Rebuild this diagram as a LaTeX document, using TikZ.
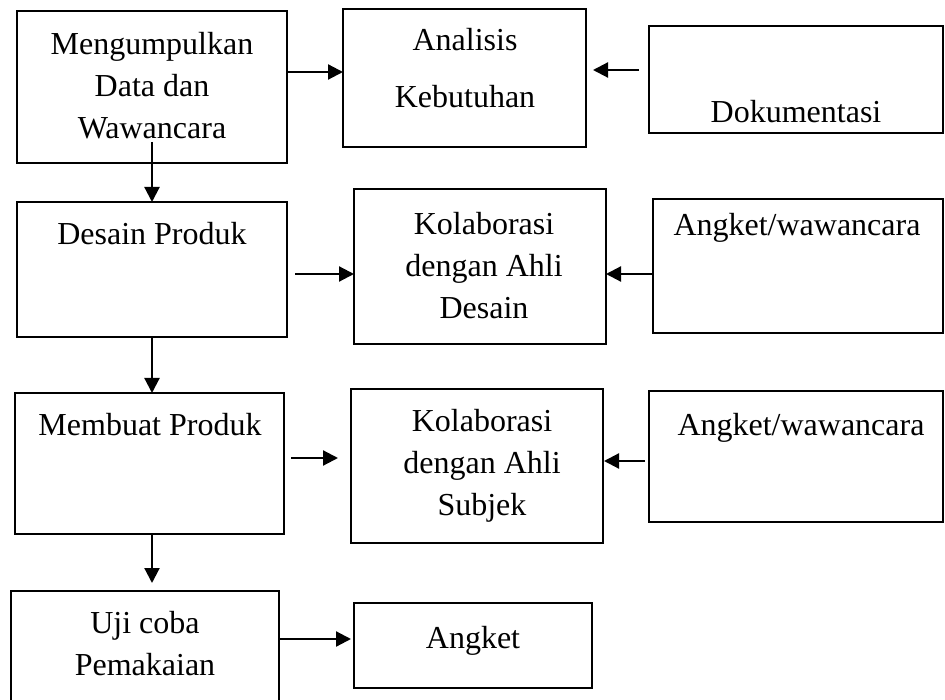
\documentclass[tikz,border=0pt]{standalone}
\usepackage{fontspec}
\setmainfont{Liberation Serif}
\usepackage{tikz}
\usetikzlibrary{arrows.meta}

\begin{document}
\begin{tikzpicture}[x=1pt, y=-1pt,
    kotak/.style 2 args={draw, line width=1.6pt, inner sep=0pt, outer sep=0pt, minimum width=#1, minimum height=#2},
    teks/.style={font=\fontsize{32}{42}\selectfont, align=center, anchor=north, inner sep=0pt},
    panah/.style={line width=2.2pt, -{Triangle[length=15pt, width=15pt]}}]
    \useasboundingbox (0,0) rectangle (945,700);

    % Left column
    \node[kotak={270pt}{152pt}] (kumpul) at (152,87) {};
    \node[kotak={270pt}{135pt}] (desain) at (152,269.5) {};
    \node[kotak={269pt}{141pt}] (buat) at (149.5,463.5) {};
    \node[kotak={268pt}{111pt}] (uji) at (145,646.5) {};

    % Middle column
    \node[kotak={243pt}{138pt}] (analisis) at (464.5,78) {};
    \node[kotak={252pt}{155pt}] (kolabdesain) at (480,266.5) {};
    \node[kotak={252pt}{154pt}] (kolabsubjek) at (477,466) {};
    \node[kotak={238pt}{85pt}] (angket) at (473,645.5) {};

    % Right column
    \node[kotak={294pt}{107pt}] (dokumen) at (796,79.5) {};
    \node[kotak={290pt}{134pt}] (angketdesain) at (798,266) {};
    \node[kotak={294pt}{131pt}] (angketsubjek) at (796,456.5) {};

    % Texts
    \node[teks] (tkumpul) at (152,32) {Mengumpulkan\\Data dan\\Wawancara};
    \node[teks] (tdesain) at (152,222) {Desain Produk};
    \node[teks] (tbuat) at (150,413) {Membuat Produk};
    \node[teks] (tuji) at (145,611) {Uji coba\\Pemakaian};
    \node[teks] (tanalisis) at (465,28) {Analisis\\[15pt]Kebutuhan};
    \node[teks] (tkolabdesain) at (484,212) {Kolaborasi\\dengan Ahli\\Desain};
    \node[teks] (tkolabsubjek) at (482,409) {Kolaborasi\\dengan Ahli\\Subjek};
    \node[teks] (tangket) at (473,626) {Angket};
    \node[teks] (tdokumen) at (796,100) {Dokumentasi};
    \node[teks] (tangketdesain) at (797,213) {Angket/wawancara};
    \node[teks] (tangketsubjek) at (801,413) {Angket/wawancara};

    % Down arrows
    \draw[panah] ([yshift=21pt]kumpul.south) -- (desain.north);
    \draw[panah] (desain.south) -- (desain.south |- buat.north);
    \draw[panah] (desain.south |- buat.south) -- (desain.south |- uji.north) [shorten >=8pt];

    % Side arrows
    \draw[panah] (kumpul.east |- 0,72) -- (analisis.west |- 0,72);
    \draw[panah, shorten <=10pt, shorten >=7pt] (dokumen.west |- 0,70) -- (analisis.east |- 0,70);
    \draw[panah, shorten <=8pt] (desain.east |- 0,274) -- (kolabdesain.west |- 0,274);
    \draw[panah] (angketdesain.west |- 0,274) -- (kolabdesain.east |- 0,274);
    \draw[panah, shorten <=7pt, shorten >=13pt] (buat.east |- 0,458) -- (kolabsubjek.west |- 0,458);
    \draw[panah, shorten <=4pt, shorten >=1pt] (angketsubjek.west |- 0,461) -- (kolabsubjek.east |- 0,461);
    \draw[panah, shorten >=3pt] (uji.east |- 0,639) -- (angket.west |- 0,639);

\end{tikzpicture}
\end{document}
